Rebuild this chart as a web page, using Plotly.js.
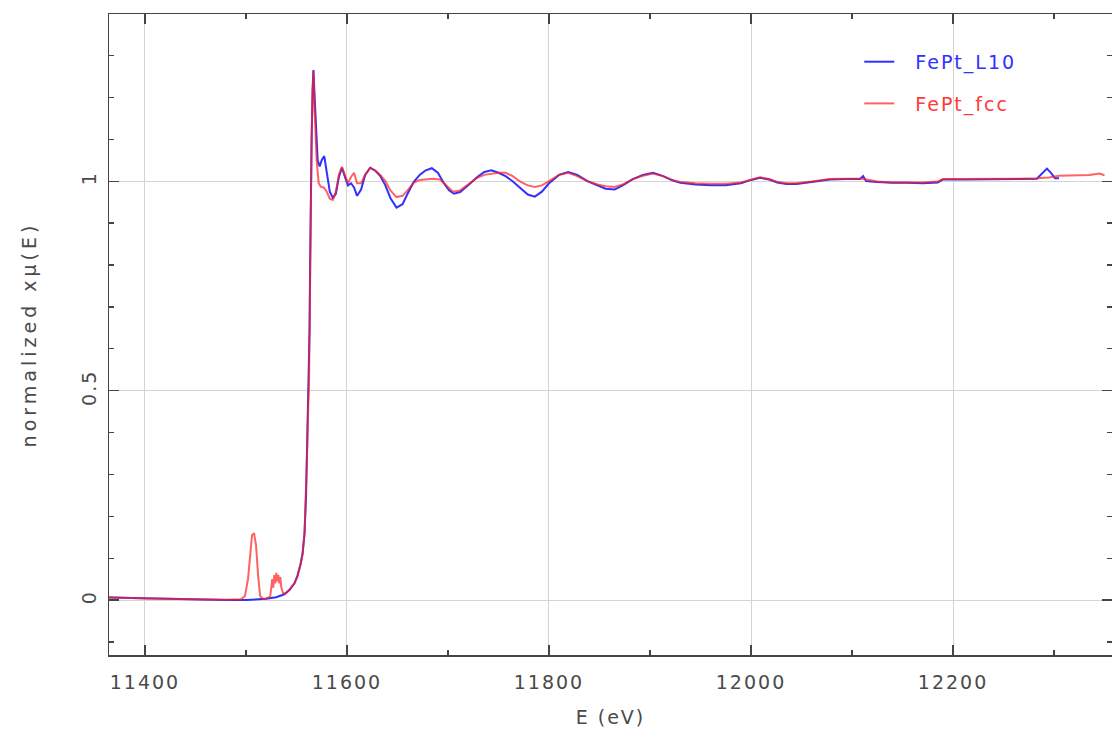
<!DOCTYPE html>
<html>
<head>
<meta charset="utf-8">
<script src="https://cdn.plot.ly/plotly-3.0.1.min.js"></script>
<style>
html,body{margin:0;padding:0;background:#fff;}
#chart{width:1112px;height:738px;}
.main-svg text{letter-spacing:2px;}
.g-ytitle text{letter-spacing:4px;}
.legend .scrollbox{clip-path:none !important;}
.legend{clip-path:none !important;}
</style>
</head>
<body>
<div id="chart"></div>
<script>
// FePt_L10 (blue)
const energyL10 = [11364,11380,11400,11420,11440,11460,11480,11500,11510,11520,11530,11538,11543,11548,11551,11554,11556,11558,11559.5,11560.5,11561.5,11562.4,11563,11563.5,11564,11565,11566,11566.8,11568,11569.5,11571,11573,11575,11577.5,11580,11583,11586,11589,11592,11595,11598,11601,11604,11607,11610,11614,11618,11623,11628,11633,11638,11643,11649,11655,11660,11666,11672,11678,11684,11690,11696,11701,11706,11712,11720,11729,11736,11743,11750,11757,11764,11772,11779,11786,11793,11800,11810,11819,11828,11838,11848,11856,11865,11873,11883,11893,11903,11913,11922,11930,11945,11960,11975,11990,12000,12009,12018,12026,12035,12045,12060,12078,12095,12108,12111,12114,12125,12140,12155,12170,12185,12190,12210,12240,12265,12283,12289,12293,12297,12301,12305];
const muL10 = [0.006,0.005,0.004,0.003,0.002,0.001,0.000,0.000,0.001,0.003,0.007,0.014,0.024,0.040,0.058,0.085,0.110,0.160,0.250,0.350,0.450,0.520,0.650,0.800,0.950,1.100,1.220,1.265,1.200,1.100,1.050,1.035,1.050,1.060,1.020,0.975,0.960,0.970,1.010,1.032,1.010,0.990,0.995,0.985,0.965,0.980,1.015,1.032,1.025,1.012,0.990,0.960,0.937,0.945,0.970,0.998,1.015,1.026,1.031,1.020,0.995,0.978,0.970,0.974,0.990,1.010,1.022,1.026,1.020,1.012,1.000,0.982,0.968,0.963,0.975,0.995,1.015,1.022,1.015,1.000,0.990,0.982,0.980,0.990,1.005,1.015,1.020,1.012,1.002,0.996,0.992,0.990,0.990,0.995,1.003,1.008,1.004,0.997,0.993,0.993,0.998,1.004,1.005,1.005,1.012,1.000,0.998,0.996,0.996,0.995,0.997,1.004,1.004,1.004,1.005,1.006,1.022,1.030,1.020,1.007,1.007];

// FePt_fcc (red)
const energyFcc = [11364,11380,11400,11420,11440,11460,11480,11495,11499,11502,11504,11506,11508,11510,11512,11514,11517,11520,11524,11526,11527,11528,11529,11530,11531,11532,11533,11534,11535,11537,11540,11543,11548,11551,11554,11556,11558,11559.5,11560.5,11561.5,11562.4,11563,11563.5,11564,11565,11566,11566.8,11568,11570,11572,11574,11577,11580,11583,11586,11589,11592,11595,11598,11601,11604,11607,11610,11614,11618,11623,11628,11633,11638,11643,11649,11655,11660,11666,11672,11678,11685,11692,11698,11705,11712,11720,11729,11736,11743,11750,11757,11764,11772,11779,11786,11793,11800,11810,11819,11828,11838,11848,11856,11865,11873,11883,11893,11903,11913,11922,11930,11945,11960,11975,11990,12000,12009,12018,12026,12035,12045,12060,12078,12095,12110,12125,12140,12155,12170,12185,12190,12210,12240,12265,12283,12295,12305,12320,12335,12345,12350];
const muFcc = [0.007,0.005,0.004,0.003,0.002,0.001,0.001,0.002,0.010,0.050,0.110,0.155,0.160,0.130,0.060,0.010,0.003,0.004,0.008,0.050,0.030,0.060,0.040,0.065,0.045,0.060,0.040,0.055,0.030,0.015,0.018,0.025,0.040,0.058,0.085,0.110,0.160,0.250,0.350,0.450,0.520,0.650,0.800,0.950,1.100,1.220,1.262,1.170,1.050,0.995,0.987,0.985,0.975,0.958,0.955,0.975,1.015,1.034,1.015,0.995,1.010,1.020,0.995,0.995,1.015,1.032,1.025,1.015,1.000,0.978,0.962,0.965,0.978,0.996,1.003,1.005,1.006,1.004,0.990,0.975,0.978,0.993,1.008,1.015,1.018,1.020,1.020,1.012,0.998,0.990,0.986,0.990,1.000,1.015,1.020,1.012,1.000,0.992,0.988,0.986,0.992,1.005,1.013,1.018,1.012,1.003,0.998,0.995,0.994,0.994,0.997,1.004,1.009,1.005,0.998,0.995,0.995,0.999,1.005,1.006,1.006,0.999,0.997,0.997,0.997,0.999,1.005,1.005,1.005,1.006,1.007,1.009,1.013,1.014,1.015,1.018,1.014];

const seriesNames = ['FePt_L10', 'FePt_fcc'];
const xTickVals = [11400,11600,11800,12000,12200];
const xTickText = ['11400','11600','11800','12000','12200'];
const yTickVals = [0,0.5,1];
const yTickText = ['0','0.5','1'];

const font = {family:'DejaVu Sans, sans-serif', size:19, color:'#4a4a4a'};

const traces = [
  {x:energyL10, y:muL10, type:'scatter', mode:'lines',
   name:'&nbsp;&nbsp;<span style="color:#3030ff">' + seriesNames[0] + '</span>',
   line:{color:'#3030ff', width:2}, legendgroup:'a'},
  {x:energyFcc, y:muFcc, type:'scatter', mode:'lines',
   name:'&nbsp;&nbsp;<span style="color:#ff3a3a">' + seriesNames[1] + '</span>',
   line:{color:'#ff2020', width:2}, opacity:0.7, legendgroup:'b'}
];

const axisCommon = {
  showline:true, linecolor:'#444', linewidth:1.5, mirror:'allticks',
  ticks:'inside', ticklen:10, tickwidth:1.3, tickcolor:'#444',
  showgrid:true, gridcolor:'#d4d4d4', gridwidth:1, zeroline:false,
  tickfont:font
};

const layout = {
  width:1112, height:738,
  margin:{l:109, r:0, t:14, b:83},
  paper_bgcolor:'#fff', plot_bgcolor:'#fff',
  showlegend:true,
  legend:{x:0.748, y:0.955, xanchor:'left', yanchor:'top', bgcolor:'rgba(0,0,0,0)',
          font:{family:'DejaVu Sans, sans-serif', size:19}, tracegroupgap:14, traceorder:'grouped', itemwidth:30},
  xaxis:Object.assign({}, axisCommon, {
    range:[11364.4, 12357.4], tickvals:xTickVals, ticktext:xTickText, ticklabelstandoff:10,
    minor:{dtick:100, tick0:11400, ticks:'inside', ticklen:5, tickcolor:'#444', showgrid:false},
    title:{text:'E (eV)', font:font, standoff:18}
  }),
  yaxis:Object.assign({}, axisCommon, {
    range:[-0.131, 1.399], tickvals:yTickVals, ticktext:yTickText, tickangle:-90, ticklabelstandoff:4,
    minor:{dtick:0.1, tick0:0, ticks:'inside', ticklen:5, tickcolor:'#444', showgrid:false},
    title:{text:'normalized xμ(E)', font:font, standoff:36}
  })
};

Plotly.newPlot('chart', traces, layout, {displayModeBar:false, staticPlot:true});
</script>
</body>
</html>
